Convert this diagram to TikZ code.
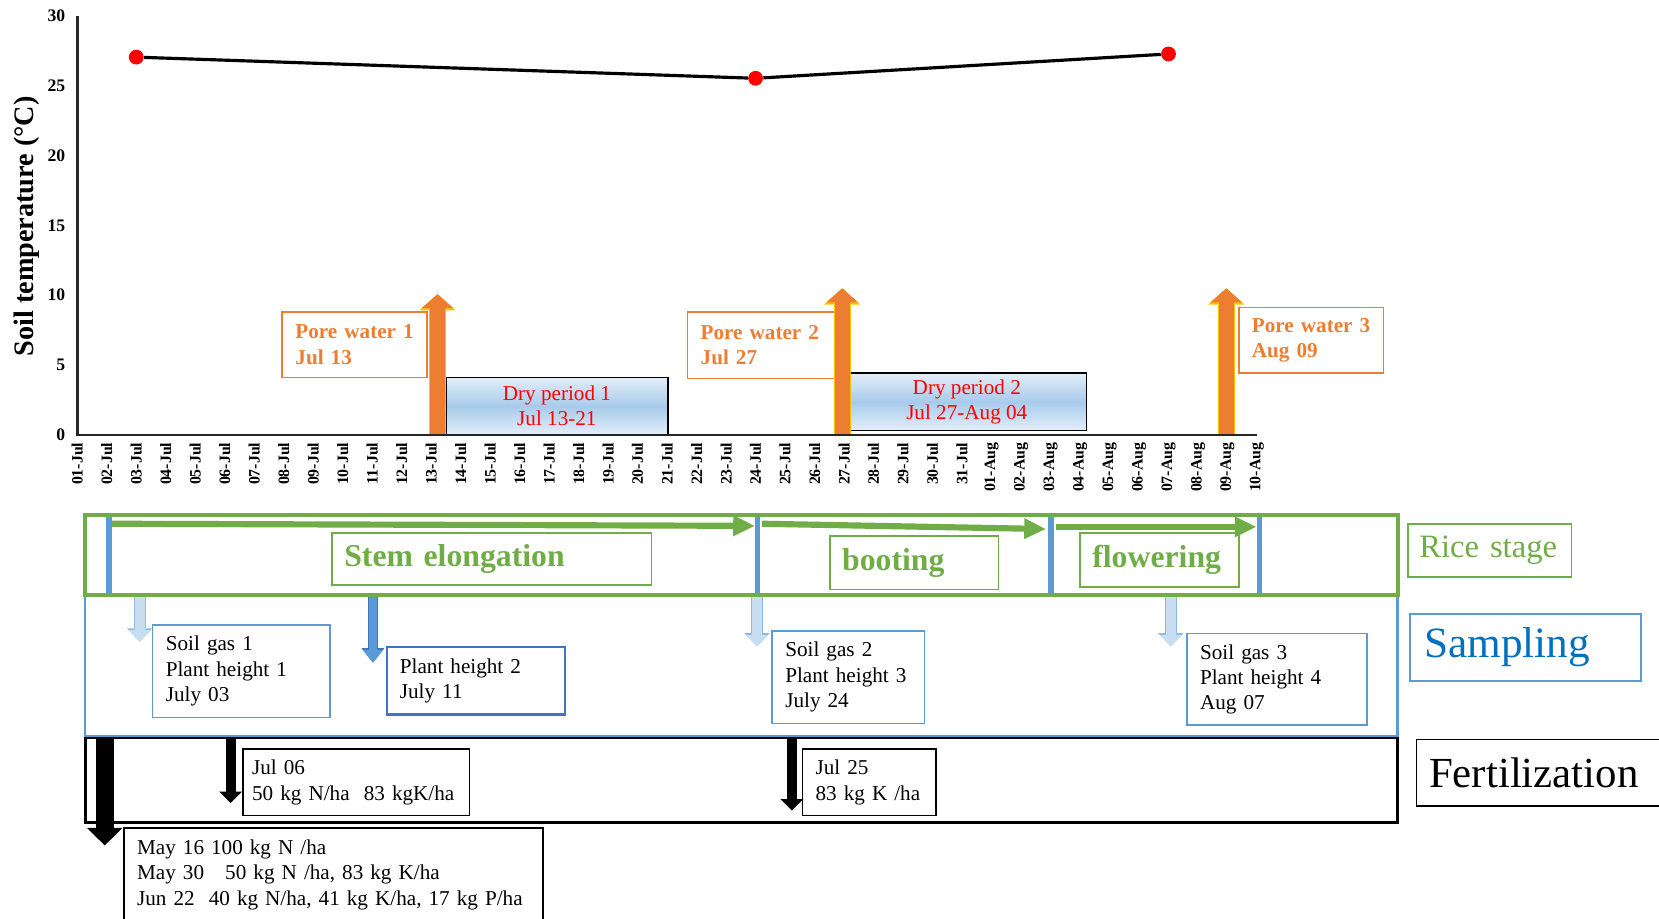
\documentclass[tikz,border=0pt]{standalone}
\usepackage{fontspec}
\setmainfont{Liberation Serif}
\usetikzlibrary{arrows.meta}

\definecolor{pwor}{HTML}{ED7D31}
\definecolor{pwgold}{HTML}{FFC000}
\definecolor{stgreen}{HTML}{70AD47}
\definecolor{smblue}{HTML}{5B9BD5}
\definecolor{smdark}{HTML}{4472C4}
\definecolor{smtext}{HTML}{0070C0}
\definecolor{smlight}{HTML}{C9DDF1}
\definecolor{smedge}{HTML}{8DB8E2}
\definecolor{drytop}{HTML}{E3EEF9}
\definecolor{drymid}{HTML}{A8CBEB}

\begin{document}
\begin{tikzpicture}[x=0.6pt,y=-0.6pt,
			tick/.style={rotate=90,anchor=east,inner sep=0pt,font=\fontsize{9}{10}\selectfont\bfseries},
			ytick/.style={anchor=east,inner sep=0pt,font=\fontsize{10}{11}\selectfont\bfseries},
			ylab/.style={rotate=90,inner sep=0pt,font=\fontsize{16}{18}\selectfont\bfseries},
			dot/.style={circle,fill=red,inner sep=0pt,minimum size=8.4pt},
			tline/.style={line width=1.8pt,black},
			axis/.style={line width=1.5pt,black!85},
			lbox/.style={anchor=north west,align=left,inner xsep=7.5pt,inner ysep=0pt,font=\fontsize{12}{14.4}\selectfont},
			porebox/.style={lbox,draw=pwor,line width=0.9pt,text=pwor,font=\fontsize{12}{14.4}\selectfont\bfseries},
			drybox/.style={anchor=north west,draw=black,line width=0.9pt,align=center,inner sep=0pt,text=red,font=\fontsize{12}{14.4}\selectfont,top color=drytop,bottom color=drytop,middle color=drymid},
			stagebox/.style={lbox,inner xsep=7pt,draw=stgreen,line width=0.9pt,text=stgreen,font=\fontsize{18}{21}\selectfont\bfseries},
			sampbox/.style={lbox,draw=smblue,line width=0.9pt},
			fertbox/.style={lbox,draw=black,line width=0.8pt},
			pwarrow/.style={draw=pwor,line width=8.4pt,-{Triangle[width=18pt,length=8pt,line width=0pt]},preaction={draw=pwgold,line width=9.8pt,-{Triangle[width=20.5pt,length=9.2pt,line width=0pt]}}},
			stagearrow/.style={draw=stgreen,line width=3.5pt,-{Triangle[width=12pt,length=12pt,line width=0pt]}},
			samparrow/.style={draw=smlight,line width=5.6pt,-{Triangle[width=12.6pt,length=6.6pt,line width=0pt]},preaction={draw=smedge,line width=6.8pt,-{Triangle[width=14.4pt,length=7.6pt,line width=0pt]}}},
			darkarrow/.style={draw=smblue,line width=4.6pt,-{Triangle[width=11.4pt,length=7.2pt,line width=0pt]},preaction={draw=smdark,line width=5.8pt,-{Triangle[width=13pt,length=8.2pt,line width=0pt]}}},
			bigarrow/.style={draw=black,line width=10pt,-{Triangle[width=20.4pt,length=10pt,line width=0pt]}},
			fertarrow/.style={draw=black,line width=5.7pt,-{Triangle[width=13pt,length=6.5pt,line width=0pt]}},
			divider/.style={draw=smblue,line width=3.2pt}]
			\useasboundingbox (0,0) rectangle (1568,868);

			\node[ylab] (ylabel) at (25,214) {Soil temperature (°C)};
			\node[ytick] (y30) at (62,15) {30};
			\node[ytick] (y25) at (62,81) {25};
			\node[ytick] (y20) at (62,147) {20};
			\node[ytick] (y15) at (62,213) {15};
			\node[ytick] (y10) at (62,279) {10};
			\node[ytick] (y05) at (62,345) {5};
			\node[ytick] (y00) at (62,411) {0};

			\node[tick] (jul01) at (73.0,418) {01-Jul};
			\node[tick] (jul02) at (100.9,418) {02-Jul};
			\node[tick] (jul03) at (128.8,418) {03-Jul};
			\node[tick] (jul04) at (156.6,418) {04-Jul};
			\node[tick] (jul05) at (184.5,418) {05-Jul};
			\node[tick] (jul06) at (212.4,418) {06-Jul};
			\node[tick] (jul07) at (240.3,418) {07-Jul};
			\node[tick] (jul08) at (268.1,418) {08-Jul};
			\node[tick] (jul09) at (296.0,418) {09-Jul};
			\node[tick] (jul10) at (323.9,418) {10-Jul};
			\node[tick] (jul11) at (351.8,418) {11-Jul};
			\node[tick] (jul12) at (379.6,418) {12-Jul};
			\node[tick] (jul13) at (407.5,418) {13-Jul};
			\node[tick] (jul14) at (435.4,418) {14-Jul};
			\node[tick] (jul15) at (463.3,418) {15-Jul};
			\node[tick] (jul16) at (491.1,418) {16-Jul};
			\node[tick] (jul17) at (519.0,418) {17-Jul};
			\node[tick] (jul18) at (546.9,418) {18-Jul};
			\node[tick] (jul19) at (574.8,418) {19-Jul};
			\node[tick] (jul20) at (602.6,418) {20-Jul};
			\node[tick] (jul21) at (630.5,418) {21-Jul};
			\node[tick] (jul22) at (658.4,418) {22-Jul};
			\node[tick] (jul23) at (686.3,418) {23-Jul};
			\node[tick] (jul24) at (714.1,418) {24-Jul};
			\node[tick] (jul25) at (742.0,418) {25-Jul};
			\node[tick] (jul26) at (769.9,418) {26-Jul};
			\node[tick] (jul27) at (797.8,418) {27-Jul};
			\node[tick] (jul28) at (825.6,418) {28-Jul};
			\node[tick] (jul29) at (853.5,418) {29-Jul};
			\node[tick] (jul30) at (881.4,418) {30-Jul};
			\node[tick] (jul31) at (909.3,418) {31-Jul};
			\node[tick] (aug01) at (937.1,418) {01-Aug};
			\node[tick] (aug02) at (965.0,418) {02-Aug};
			\node[tick] (aug03) at (992.9,418) {03-Aug};
			\node[tick] (aug04) at (1020.8,418) {04-Aug};
			\node[tick] (aug05) at (1048.6,418) {05-Aug};
			\node[tick] (aug06) at (1076.5,418) {06-Aug};
			\node[tick] (aug07) at (1104.4,418) {07-Aug};
			\node[tick] (aug08) at (1132.3,418) {08-Aug};
			\node[tick] (aug09) at (1160.1,418) {09-Aug};
			\node[tick] (aug10) at (1188.0,418) {10-Aug};

			\node[drybox,minimum width=126pt,minimum height=32.4pt] (dry1) at (420.6,356) {Dry period 1\\Jul 13-21};
			\node[drybox,minimum width=135.6pt,minimum height=32.4pt] (dry2) at (800,352) {Dry period 2\\Jul 27-Aug 04};
			\draw[axis] (73,15) -- (73,411) -- (1188,411);

			\node[dot] (t1) at (128.8,54) {};
			\node[dot] (t2) at (714.1,74) {};
			\node[dot] (t3) at (1104.4,51) {};
			\draw[tline] (t1) -- (t2) -- (t3);

			\node[porebox,text width=67.2pt,minimum height=37.2pt] (pw1) at (266,294) {Pore water 1\\Jul 13};
			\node[porebox,text width=68.4pt,minimum height=37.8pt] (pw2) at (649,294) {Pore water 2\\Jul 27};
			\node[porebox,text width=67.2pt,minimum height=37.2pt] (pw3) at (1170,290) {Pore water 3\\Aug 09};
			\coordinate (pwa1) at (413.5,410);
			\coordinate (pwb1) at (413.5,278);
			\coordinate (pwa2) at (796,410);
			\coordinate (pwb2) at (796,272.5);
			\coordinate (pwa3) at (1159,410);
			\coordinate (pwb3) at (1159,272.5);
			\draw[pwarrow] (pwa1) -- (pwb1);
			\draw[pwarrow] (pwa2) -- (pwb2);
			\draw[pwarrow] (pwa3) -- (pwb3);

			\draw[line width=1.8pt] (80.5,696.5) rectangle (1321,777);
			\draw[smblue,line width=1.5pt] (80.5,562) rectangle (1321,695.5);
			\draw[divider] (103,488) -- (103,561);
			\draw[divider] (716,488) -- (716,561);
			\draw[divider] (993.5,488) -- (993.5,561);
			\draw[divider] (1190.5,488) -- (1190.5,561);
			\draw[stgreen,line width=2.4pt] (80.5,487) rectangle (1321,562);

			\coordinate (ga1) at (106,495);
			\coordinate (gb1) at (713,497);
			\coordinate (ga2) at (720,495);
			\coordinate (gb2) at (988,500);
			\coordinate (ga3) at (998,498);
			\coordinate (gb3) at (1187,498);
			\draw[stagearrow] (ga1) -- (gb1);
			\draw[stagearrow] (ga2) -- (gb2);
			\draw[stagearrow] (ga3) -- (gb3);
			\node[stagebox,text width=167.2pt,minimum height=29.4pt] (stem) at (313,503) {Stem elongation};
			\node[stagebox,text width=81.7pt,minimum height=30.3pt] (boot) at (783.5,506) {booting};
			\node[stagebox,text width=76pt,minimum height=30.6pt] (flow) at (1020,503) {flowering};

			\node[lbox,inner xsep=6.5pt,draw=stgreen,line width=0.8pt,text=stgreen,font=\fontsize{18.5}{22}\selectfont,text width=79.7pt,minimum height=30pt] (rice) at (1330,494.5) {Rice stage};
			\node[lbox,inner xsep=8pt,draw=smblue,line width=0.9pt,text=smtext,font=\fontsize{24.5}{28}\selectfont,text width=114.8pt,minimum height=37.9pt] (samp) at (1332,579.5) {Sampling};
			\node[lbox,inner xsep=7.2pt,draw=black,line width=0.8pt,font=\fontsize{24.3}{28}\selectfont,text width=126pt,minimum height=37.5pt] (fert) at (1338,698.5) {Fertilization};

			\node[sampbox,text width=85.5pt,minimum height=52.4pt] (sg1) at (143.5,590) {Soil gas 1\\Plant height 1\\July 03};
			\node[sampbox,draw=smdark,line width=1.3pt,text width=86pt,minimum height=38.2pt] (ph2) at (364.4,610.6) {Plant height 2\\July 11};
			\node[sampbox,text width=71.4pt,minimum height=52.5pt] (sg2) at (729,595.5) {Soil gas 2\\Plant height 3\\July 24};
			\node[sampbox,text width=87pt,minimum height=52pt] (sg3) at (1121,598) {Soil gas 3\\Plant height 4\\Aug 07};
			\coordinate (sa1) at (132,564);
			\coordinate (sb1) at (132,606.5);
			\coordinate (sa2) at (352.5,564);
			\coordinate (sb2) at (352.5,626.3);
			\coordinate (sa3) at (715.5,564);
			\coordinate (sb3) at (715.5,611);
			\coordinate (sa4) at (1106.5,564);
			\coordinate (sb4) at (1106.5,611);
			\draw[samparrow] (sa1) -- (sb1);
			\draw[darkarrow] (sa2) -- (sb2);
			\draw[samparrow] (sa3) -- (sb3);
			\draw[samparrow] (sa4) -- (sb4);

			\node[fertbox,inner xsep=5.2pt,text width=118pt,minimum height=37.8pt] (f06) at (229,707.3) {Jul 06\\50 kg N/ha\ \ 83 kgK/ha};
			\node[fertbox,text width=60.8pt,minimum height=37.8pt] (f25) at (757.7,707.3) {Jul 25\\83 kg K /ha};
			\node[fertbox,text width=222.6pt,minimum height=52.8pt] (fpre) at (116.4,782) {May 16 100 kg N /ha\\May 30\ \ \ 50 kg N /ha, 83 kg K/ha\\Jun 22\ \ 40 kg N/ha, 41 kg K/ha, 17 kg P/ha};
			\coordinate (fa1) at (99,697);
			\coordinate (fb1) at (99,799);
			\coordinate (fa2) at (218,697);
			\coordinate (fb2) at (218,759);
			\coordinate (fa3) at (748.5,697);
			\coordinate (fb3) at (748.5,766);
			\draw[bigarrow] (fa1) -- (fb1);
			\draw[fertarrow] (fa2) -- (fb2);
			\draw[fertarrow] (fa3) -- (fb3);
\end{tikzpicture}
\end{document}
